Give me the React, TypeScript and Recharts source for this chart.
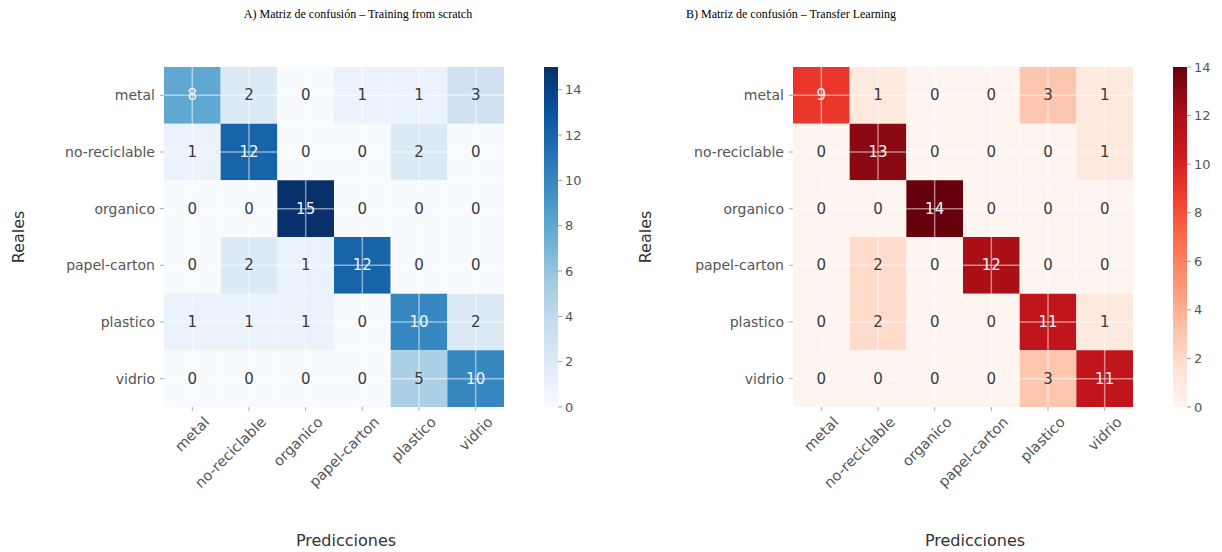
import React from 'react';
import { ScatterChart, Scatter, XAxis, YAxis, ReferenceArea, ReferenceLine } from 'recharts';

const CLASSES = ['metal', 'no-reciclable', 'organico', 'papel-carton', 'plastico', 'vidrio'];
const INDEX = [0, 1, 2, 3, 4, 5];

const MATRIX_A = [
  [8, 2, 0, 1, 1, 3],
  [1, 12, 0, 0, 2, 0],
  [0, 0, 15, 0, 0, 0],
  [0, 2, 1, 12, 0, 0],
  [1, 1, 1, 0, 10, 2],
  [0, 0, 0, 0, 5, 10],
];
const MATRIX_B = [
  [9, 1, 0, 0, 3, 1],
  [0, 13, 0, 0, 0, 1],
  [0, 0, 14, 0, 0, 0],
  [0, 2, 0, 12, 0, 0],
  [0, 2, 0, 0, 11, 1],
  [0, 0, 0, 0, 3, 11],
];
const VMAX_A = 15;
const VMAX_B = 14;
const CBAR_TICKS = [0, 2, 4, 6, 8, 10, 12, 14];

const BLUES = ['#f7fbff', '#deebf7', '#c6dbef', '#9ecae1', '#6baed6', '#4292c6', '#2171b5', '#08519c', '#08306b'];
const REDS = ['#fff5f0', '#fee0d2', '#fcbba1', '#fc9272', '#fb6a4a', '#ef3b2c', '#cb181d', '#a50f15', '#67000d'];

const TITLE_A = 'A) Matriz de confusión – Training from scratch';
const TITLE_B = 'B) Matriz de confusión – Transfer Learning';
const X_LABEL = 'Predicciones';
const Y_LABEL = 'Reales';

const SANS = '"DejaVu Sans", Verdana, sans-serif';
const SERIF = '"Liberation Serif", "Times New Roman", serif';
const TICK_COLOR = '#555';

function hexToRgb(h: string) {
  const n = parseInt(h.slice(1), 16);
  return [(n >> 16) & 255, (n >> 8) & 255, n & 255];
}
function colormap(stops: string[], t: number) {
  const tt = Math.max(0, Math.min(1, t));
  const pos = tt * (stops.length - 1);
  const i = Math.min(stops.length - 2, Math.floor(pos));
  const f = pos - i;
  const a = hexToRgb(stops[i]);
  const b = hexToRgb(stops[i + 1]);
  const c = a.map((v, k) => Math.round(v + (b[k] - v) * f));
  return `rgb(${c[0]},${c[1]},${c[2]})`;
}
function toCells(matrix: number[][]) {
  return matrix.flatMap((row, r) => row.map((v, c) => ({ x: c, y: r, v })));
}

const XTick = (props: any) => {
  const { x, y, payload } = props;
  return (
    <g transform={`translate(${x + 18},${y + 10})`}>
      <text textAnchor="end" transform="rotate(-45)" fill={TICK_COLOR} fontSize={14.5} fontFamily={SANS}>
        {CLASSES[payload.value]}
      </text>
    </g>
  );
};

type PanelProps = {
  matrix: number[][];
  vmax: number;
  cmap: string[];
  left: number;
  width: number;
  yAxisWidth: number;
  realesX: number;
  cbarLeft: number;
  gradId: string;
  title: string;
  titleCenter: number;
};

const TOP = 67;
const BOTTOM_MARGIN = 15;
const XAXIS_H = 130;
const PLOT_W = 340;
const CHART_H = 552;

function Panel(p: PanelProps) {
  const cells = toCells(p.matrix);
  const cbarData = [{ x: 0.5, y: 0 }, { x: 0.5, y: p.vmax }];
  const rightMargin = p.width - p.yAxisWidth - PLOT_W;
  return (
    <>
      <div
        style={{
          position: 'absolute', left: p.titleCenter - 250, top: 7, width: 500, textAlign: 'center',
          fontFamily: SERIF, fontSize: 12, color: '#000', whiteSpace: 'nowrap',
        }}
      >
        {p.title}
      </div>
      <div style={{ position: 'absolute', left: p.left, top: 0 }}>
        <ScatterChart
          width={p.width}
          height={CHART_H}
          margin={{ top: TOP, right: rightMargin, bottom: BOTTOM_MARGIN, left: 0 }}
        >
          <XAxis
            type="number"
            dataKey="x"
            domain={[-0.5, 5.5]}
            ticks={INDEX}
            interval={0}
            axisLine={false}
            tickLine={{ stroke: '#aaa' }}
            tickSize={4}
            height={XAXIS_H}
            tick={<XTick />}
            label={(lp: any) => {
              const vb = lp.viewBox;
              return (
                <text x={vb.x + vb.width / 2 + 12} y={vb.y + vb.height + 9} textAnchor="middle"
                  fill="#333" fontSize={16} fontFamily={SANS}>{X_LABEL}</text>
              );
            }}
          />
          <YAxis
            type="number"
            dataKey="y"
            domain={[-0.5, 5.5]}
            reversed
            ticks={INDEX}
            interval={0}
            axisLine={false}
            tickLine={{ stroke: '#aaa' }}
            tickSize={4}
            tickMargin={5}
            width={p.yAxisWidth}
            tickFormatter={(i: number) => CLASSES[i]}
            tick={{ fill: TICK_COLOR, fontSize: 14, fontFamily: SANS }}
            label={(lp: any) => {
              const vb = lp.viewBox;
              const cx = vb.x + p.realesX;
              const cy = vb.y + vb.height / 2;
              return (
                <text x={cx} y={cy} transform={`rotate(-90, ${cx}, ${cy})`} textAnchor="middle"
                  dominantBaseline="central" fill="#333" fontSize={16} fontFamily={SANS}>{Y_LABEL}</text>
              );
            }}
          />
          {cells.map((c) => (
            <ReferenceArea
              key={`a${c.x}-${c.y}`}
              x1={c.x - 0.5}
              x2={c.x + 0.5}
              y1={c.y - 0.5}
              y2={c.y + 0.5}
              fill={colormap(p.cmap, c.v / p.vmax)}
              fillOpacity={1}
              stroke="none"
            />
          ))}
          {INDEX.map((i) => (
            <ReferenceLine key={`vx${i}`} x={i} stroke="#ffffff" strokeOpacity={0.5} strokeWidth={1.5} />
          ))}
          {INDEX.map((i) => (
            <ReferenceLine key={`hy${i}`} y={i} stroke="#ffffff" strokeOpacity={0.5} strokeWidth={1.5} />
          ))}
          <Scatter
            data={cells}
            isAnimationActive={false}
            shape={(sp: any) => (
              <text
                x={sp.cx}
                y={sp.cy}
                textAnchor="middle"
                dominantBaseline="central"
                fontSize={15}
                fontFamily={SANS}
                fill={sp.payload.v / p.vmax > 0.5 ? '#f2f6fa' : '#3a3a3a'}
              >
                {sp.payload.v}
              </text>
            )}
          />
        </ScatterChart>
      </div>
      <div style={{ position: 'absolute', left: p.cbarLeft, top: 0 }}>
        <ScatterChart
          width={64}
          height={CHART_H}
          margin={{ top: TOP, right: 0, bottom: BOTTOM_MARGIN + XAXIS_H, left: 0 }}
        >
          <defs>
            <linearGradient id={p.gradId} x1="0" y1="1" x2="0" y2="0">
              {p.cmap.map((c, i) => (
                <stop key={i} offset={`${(i / (p.cmap.length - 1)) * 100}%`} stopColor={c} />
              ))}
            </linearGradient>
          </defs>
          <XAxis type="number" dataKey="x" domain={[0, 1]} hide />
          <YAxis
            type="number"
            dataKey="y"
            orientation="right"
            domain={[0, p.vmax]}
            ticks={CBAR_TICKS}
            interval={0}
            axisLine={false}
            tickLine={{ stroke: '#999' }}
            tickSize={4}
            tickMargin={3}
            width={50}
            tick={{ fill: TICK_COLOR, fontSize: 13, fontFamily: SANS }}
          />
          <ReferenceArea x1={0} x2={1} y1={0} y2={p.vmax} fill={`url(#${p.gradId})`} fillOpacity={1} stroke="none" />
          <Scatter data={cbarData} isAnimationActive={false} shape={() => <g />} />
        </ScatterChart>
      </div>
    </>
  );
}

export default function App() {
  return (
    <div style={{ position: 'absolute', left: 0, top: 0, width: 1222, height: 552, background: '#fff', overflow: 'hidden' }}>
      <Panel
        matrix={MATRIX_A}
        vmax={VMAX_A}
        cmap={BLUES}
        left={0}
        width={560}
        yAxisWidth={164}
        realesX={18}
        cbarLeft={544}
        gradId="gradBlues"
        title={TITLE_A}
        titleCenter={358}
      />
      <Panel
        matrix={MATRIX_B}
        vmax={VMAX_B}
        cmap={REDS}
        left={630}
        width={540}
        yAxisWidth={163}
        realesX={15}
        cbarLeft={1173}
        gradId="gradReds"
        title={TITLE_B}
        titleCenter={791}
      />
    </div>
  );
}
